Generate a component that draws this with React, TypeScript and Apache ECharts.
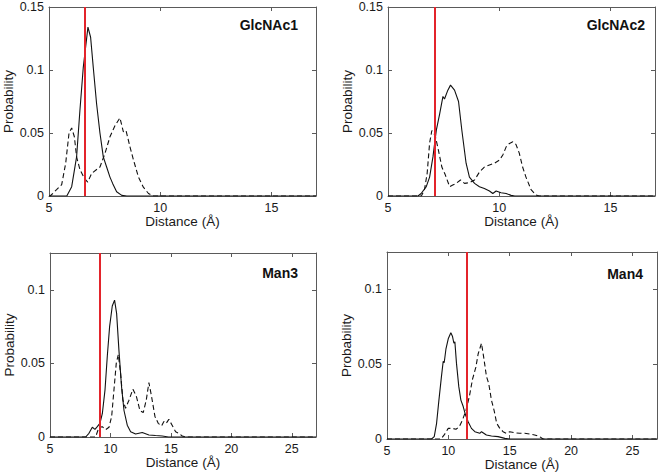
import React, { useEffect, useRef } from "react";
import * as echarts from "echarts";

const panelNames = ["GlcNAc1", "GlcNAc2", "Man3", "Man4"];
const refLines = [6.6, 7.12, 9.08, 11.5];
const xMax = [17, 17, 27, 27];
const yMax = [0.15, 0.15, 0.125, 0.125];

const p1SolidX = [5, 5.8, 6.02, 6.24, 6.39, 6.54, 6.75, 6.87, 6.99, 7.14, 7.29, 7.44, 7.59, 7.74, 7.86, 8.04, 8.27, 8.5, 17];
const p1SolidY = [0, 0, 0.0074, 0.031, 0.068, 0.102, 0.134, 0.126, 0.102, 0.073, 0.05, 0.031, 0.023, 0.015, 0.01, 0.0034, 0.0005, 0, 0];
const p1DashX = [5, 5.05, 5.34, 5.57, 5.75, 5.9, 6.02, 6.14, 6.24, 6.39, 6.59, 6.74, 6.92, 7.14, 7.29, 7.52, 7.74, 7.97, 8.19, 8.34, 8.46, 8.64, 8.79, 9.02, 9.24, 9.47, 9.69, 17];
const p1DashY = [0, 0, 0.005, 0.009, 0.026, 0.05, 0.054, 0.047, 0.031, 0.021, 0.014, 0.011, 0.018, 0.021, 0.023, 0.034, 0.047, 0.056, 0.062, 0.051, 0.052, 0.039, 0.029, 0.015, 0.007, 0.002, 0, 0];

const p2SolidX = [5, 6.35, 6.49, 6.72, 6.87, 7.02, 7.17, 7.32, 7.47, 7.54, 7.69, 7.81, 7.99, 8.17, 8.32, 8.51, 8.66, 8.89, 9.11, 9.33, 9.56, 9.71, 9.86, 10.08, 10.31, 10.53, 10.7, 17];
const p2SolidY = [0, 0, 0.002, 0.0074, 0.015, 0.031, 0.052, 0.065, 0.079, 0.077, 0.084, 0.088, 0.084, 0.075, 0.052, 0.026, 0.015, 0.01, 0.0074, 0.006, 0.004, 0.002, 0.004, 0.0026, 0.002, 0.0005, 0, 0];
const p2DashX = [5, 6.5, 6.64, 6.76, 6.87, 6.97, 7.12, 7.27, 7.42, 7.57, 7.77, 7.91, 8.06, 8.26, 8.44, 8.66, 8.89, 9.11, 9.33, 9.56, 9.78, 10.01, 10.16, 10.31, 10.46, 10.61, 10.75, 10.9, 11.05, 11.2, 11.43, 11.65, 11.8, 17];
const p2DashY = [0, 0, 0.005, 0.018, 0.042, 0.052, 0.048, 0.036, 0.023, 0.017, 0.0074, 0.0087, 0.01, 0.0127, 0.01, 0.0106, 0.0127, 0.019, 0.023, 0.0246, 0.026, 0.0285, 0.0325, 0.039, 0.0417, 0.043, 0.041, 0.034, 0.023, 0.015, 0.005, 0.0008, 0, 0];

const p3SolidX = [5, 7.95, 8.22, 8.5, 8.72, 8.91, 9.13, 9.33, 9.55, 9.74, 9.93, 10.15, 10.34, 10.51, 10.7, 10.92, 11.12, 11.39, 11.67, 12.08, 12.63, 13.18, 13.73, 14.28, 14.8, 27];
const p3SolidY = [0, 0, 0.0025, 0.0066, 0.0052, 0.007, 0.0093, 0.016, 0.032, 0.055, 0.075, 0.089, 0.093, 0.084, 0.059, 0.034, 0.018, 0.008, 0.0036, 0.002, 0.003, 0.0014, 0.001, 0.0007, 0, 0];
const p3DashX = [5, 8.77, 9.05, 9.33, 9.6, 9.88, 10.1, 10.29, 10.48, 10.65, 10.84, 11.03, 11.25, 11.53, 11.86, 12.14, 12.44, 12.71, 12.96, 13.18, 13.4, 13.68, 13.95, 14.23, 14.42, 14.61, 14.83, 15.1, 15.39, 15.66, 15.94, 16.2, 27];
const p3DashY = [0, 0, 0.0066, 0.007, 0.005, 0.0066, 0.014, 0.032, 0.05, 0.056, 0.043, 0.025, 0.0195, 0.025, 0.0325, 0.0277, 0.018, 0.0166, 0.025, 0.037, 0.0275, 0.014, 0.0093, 0.0075, 0.0105, 0.0093, 0.012, 0.008, 0.0036, 0.0025, 0.0007, 0, 0];

const p4SolidX = [5, 8.63, 8.85, 9.04, 9.23, 9.44, 9.58, 9.66, 9.8, 9.99, 10.2, 10.34, 10.45, 10.53, 10.66, 10.85, 11.02, 11.21, 11.4, 11.61, 11.88, 12.16, 12.56, 12.7, 13.1, 13.51, 14.05, 14.6, 15, 27];
const p4SolidY = [0, 0, 0.0016, 0.0105, 0.026, 0.042, 0.052, 0.051, 0.06, 0.067, 0.071, 0.0685, 0.064, 0.065, 0.0507, 0.035, 0.026, 0.0217, 0.016, 0.0116, 0.0071, 0.0049, 0.0038, 0.0049, 0.0027, 0.002, 0.0016, 0.0004, 0, 0];
const p4DashX = [5, 9.39, 9.66, 9.99, 10.34, 10.62, 10.89, 11.15, 11.43, 11.7, 11.97, 12.24, 12.43, 12.7, 12.91, 13.1, 13.29, 13.51, 13.73, 13.94, 14.19, 14.46, 14.73, 15.0, 15.41, 15.81, 16.22, 16.63, 17.03, 17.44, 17.71, 27];
const p4DashY = [0, 0, 0.0027, 0.0071, 0.0071, 0.0065, 0.0083, 0.0127, 0.019, 0.028, 0.04, 0.048, 0.057, 0.064, 0.053, 0.042, 0.037, 0.026, 0.019, 0.0105, 0.0071, 0.0049, 0.0038, 0.0049, 0.0042, 0.0038, 0.0038, 0.0033, 0.0027, 0.0016, 0, 0];

const solidXs = [p1SolidX, p2SolidX, p3SolidX, p4SolidX];
const solidYs = [p1SolidY, p2SolidY, p3SolidY, p4SolidY];
const dashXs = [p1DashX, p2DashX, p3DashX, p4DashX];
const dashYs = [p1DashY, p2DashY, p3DashY, p4DashY];

const zip = (xs: number[], ys: number[]) => xs.map((x, i) => [x, ys[i]]);

const FONT = "'Liberation Sans', Arial, Helvetica, sans-serif";
const FRAME = "#5a5a5a";
const TEXT = "#1a1a1a";

const grids = [
  { left: 49, top: 7, width: 267, height: 189 },
  { left: 388, top: 7, width: 267, height: 189 },
  { left: 50, top: 253, width: 266, height: 184 },
  { left: 387, top: 252, width: 270, height: 187 },
];

const titlePos = [
  { x: 298, y: 25 },
  { x: 645, y: 25 },
  { x: 298, y: 273 },
  { x: 643, y: 274 },
];

export default function App() {
  const ref = useRef<HTMLDivElement>(null);
  useEffect(() => {
    if (!ref.current) return;
    const chart = echarts.init(ref.current, undefined, { renderer: "svg" });
    const xAxis: any[] = [];
    const yAxis: any[] = [];
    const series: any[] = [];
    for (let i = 0; i < 4; i++) {
      const common = {
        gridIndex: i,
        type: "value",
        axisLine: { show: true, onZero: false, lineStyle: { color: FRAME, width: 1 } },
        axisTick: { show: true, inside: true, length: 4, lineStyle: { color: FRAME } },
        splitLine: { show: false },
      };
      xAxis.push({
        ...common,
        position: "bottom",
        min: 5,
        max: xMax[i],
        interval: 5,
        name: "Distance (Å)",
        nameLocation: "middle",
        nameGap: 18,
        nameTextStyle: { fontFamily: FONT, fontSize: 13.5, color: TEXT },
        axisLabel: { fontFamily: FONT, fontSize: 12.5, color: TEXT, margin: 5, showMaxLabel: false },
      });
      xAxis.push({
        ...common,
        position: "top",
        min: 5,
        max: xMax[i],
        interval: 5,
        axisLabel: { show: false },
      });
      yAxis.push({
        ...common,
        position: "left",
        min: 0,
        max: yMax[i],
        interval: 0.05,
        name: "Probability",
        nameLocation: "middle",
        nameGap: 33,
        nameTextStyle: { fontFamily: FONT, fontSize: 13.5, color: TEXT },
        axisLabel: { fontFamily: FONT, fontSize: 12.5, color: TEXT, margin: 5, showMaxLabel: i < 2 },
      });
      yAxis.push({
        ...common,
        position: "right",
        min: 0,
        max: yMax[i],
        interval: 0.05,
        axisLabel: { show: false },
      });
      series.push({
        type: "line",
        xAxisIndex: i * 2,
        yAxisIndex: i * 2,
        data: zip(solidXs[i], solidYs[i]),
        showSymbol: false,
        symbol: "none",
        lineStyle: { color: "#111", width: 1.1, type: "solid" },
        z: 2,
      });
      series.push({
        type: "line",
        xAxisIndex: i * 2,
        yAxisIndex: i * 2,
        data: zip(dashXs[i], dashYs[i]),
        showSymbol: false,
        symbol: "none",
        lineStyle: { color: "#111", width: 1.1, type: [5, 3] },
        z: 3,
        markLine: {
          silent: true,
          symbol: "none",
          label: { show: false },
          lineStyle: { color: "#e3242b", width: 2, type: "solid" },
          data: [{ xAxis: refLines[i] }],
          z: 4,
        },
      });
    }
    chart.setOption({
      animation: false,
      backgroundColor: "#ffffff",
      grid: grids.map((g) => ({ ...g, containLabel: false })),
      xAxis,
      yAxis,
      series,
      graphic: panelNames.map((n, i) => ({
        type: "text",
        x: titlePos[i].x,
        y: titlePos[i].y,
        style: {
          text: n,
          fontFamily: FONT,
          fontSize: 14,
          fontWeight: "bold",
          fill: "#111",
          textAlign: "right",
          textVerticalAlign: "middle",
        },
      })),
    });
    return () => chart.dispose();
  }, []);
  return (
    <div
      ref={ref}
      style={{ position: "fixed", left: 0, top: 0, width: 660, height: 475, background: "#fff" }}
    />
  );
}
